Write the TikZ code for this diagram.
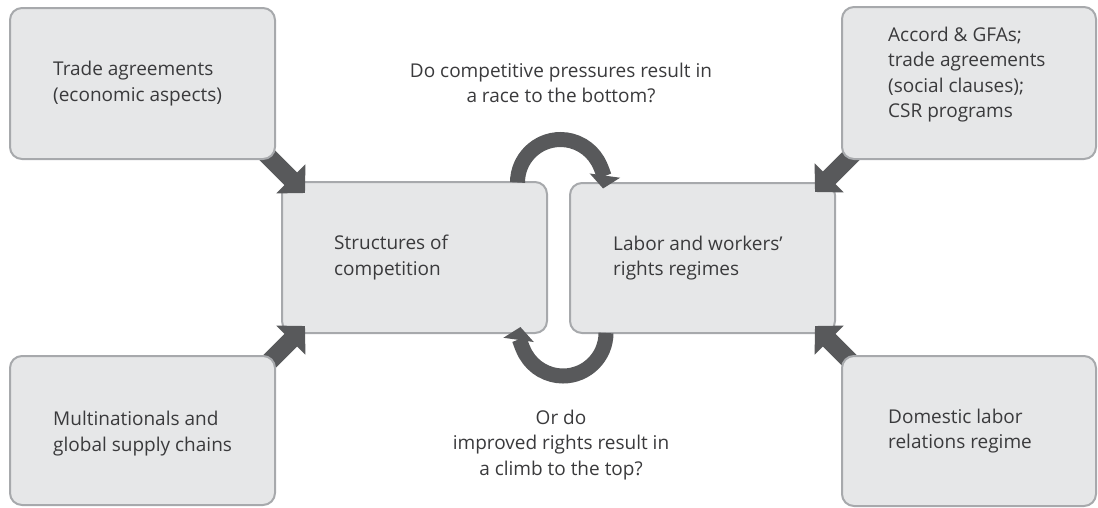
\documentclass[tikz,border=0pt]{standalone}
\usepackage{fontspec}
\setmainfont{Open Sans}
\usetikzlibrary{arrows.meta,calc}
\pgfdeclarelayer{back}
\pgfdeclarelayer{mid}
\pgfsetlayers{back,mid,main}
\definecolor{boxfill}{HTML}{E6E7E8}
\definecolor{boxline}{HTML}{A7A9AC}
\definecolor{arrowgrey}{HTML}{58595B}
\definecolor{txt}{HTML}{3A3A3C}
\begin{document}
\begin{tikzpicture}[x=1pt,y=-1pt,
  box/.style={draw=boxline, line width=2pt, fill=boxfill, rounded corners=12pt, inner sep=0pt, outer sep=0pt},
  lbl/.style={text=txt, font=\fontsize{19}{25.5}\selectfont, align=left, inner sep=0pt},
  clbl/.style={lbl, align=center},
  bigarrow/.style={draw=arrowgrey, line width=18pt, -{Triangle[length=20pt,width=40pt]}},
  looparrow/.style={draw=arrowgrey, line width=15pt, -{Triangle[length=13pt,width=30pt]}},
]
\useasboundingbox (0,0) rectangle (1098,507);
\begin{pgfonlayer}{back}
\node[box, minimum width=265pt, minimum height=151pt] (cl) at (414.5,257.5) {};
\node[box, minimum width=265pt, minimum height=150pt] (cr) at (702.5,258) {};
\end{pgfonlayer}
\node[box, minimum width=265pt, minimum height=151pt] (tl) at (142.5,83.5) {};
\node[box, minimum width=265pt, minimum height=149pt] (bl) at (142.5,430.5) {};
\node[box, minimum width=254pt, minimum height=152pt] (tr) at (969,83) {};
\node[box, minimum width=254pt, minimum height=150pt] (br) at (969,431) {};

\node[lbl, anchor=west] (tlt) at ([xshift=43pt]tl.west) {Trade agreements\\(economic aspects)};
\node[lbl, anchor=west] (blt) at ([xshift=43pt,yshift=-3pt]bl.west) {Multinationals and\\global supply chains};
\node[lbl, anchor=west] (trt) at ([xshift=46pt,yshift=8.5pt]tr.west) {Accord \& GFAs;\\trade agreements\\(social clauses);\\CSR programs};
\node[lbl, anchor=west] (brt) at ([xshift=46pt]br.west) {Domestic labor\\relations regime};
\node[lbl, anchor=west] (clt) at ([xshift=52pt]cl.west) {Structures of\\competition};
\node[lbl, anchor=west] (crt) at ([xshift=43pt]cr.west) {Labor and workers’\\rights regimes};

\node[clbl, anchor=north] (q1) at (561,62.5) {Do competitive pressures result in\\a race to the bottom?};
\node[clbl, anchor=north] (q2) at (561,409.5) {Or do\\improved rights result in\\a climb to the top?};

\coordinate (topc) at ($(cl.north east)!0.5!(cr.north west)+(2pt,0)$);
\coordinate (botc) at ($(cl.south east)!0.5!(cr.south west)+(4.5pt,0)$);

\begin{pgfonlayer}{mid}
\draw[bigarrow] ([shift={(-20pt,16pt)}]tl.south east) -- ([shift={(23pt,-11pt)}]cl.north west);
\draw[bigarrow] ([shift={(-20pt,-20pt)}]bl.north east) -- ([shift={(23pt,7pt)}]cl.south west);
\draw[bigarrow] ([shift={(20pt,14pt)}]tr.south west) -- ([shift={(-20pt,-9pt)}]cr.north east);
\draw[bigarrow] ([shift={(20pt,-17pt)}]br.north west) -- ([shift={(-20pt,7pt)}]cr.south east);
\draw[looparrow] ([xshift=-43pt]topc) arc[start angle=180, end angle=368, radius=43];
\draw[looparrow] ([xshift=43pt]botc) arc[start angle=0, end angle=188, radius=43];
\end{pgfonlayer}
\end{tikzpicture}
\end{document}
